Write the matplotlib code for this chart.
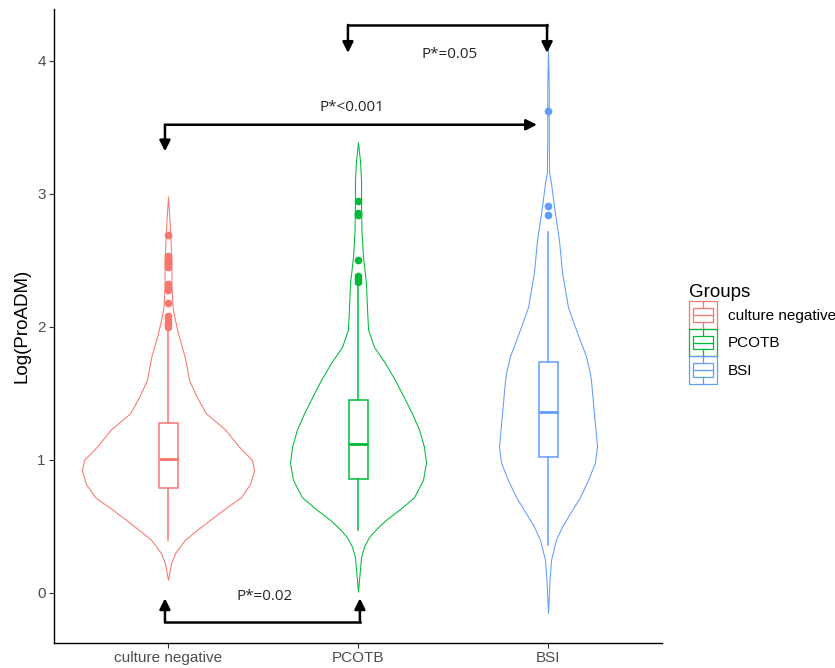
import matplotlib
matplotlib.use('Agg')
import matplotlib.pyplot as plt
from matplotlib.legend_handler import HandlerBase
from matplotlib.patches import Rectangle, Patch
from matplotlib.lines import Line2D

plt.rcParams['font.family'] = ['Liberation Sans', 'DejaVu Sans']

groups = ['culture negative', 'PCOTB', 'BSI']
colors = ['#F8766D', '#00BA38', '#619CFF']

# violin outlines: value levels and half widths (x units)
cn_y = [0.10, 0.16, 0.22, 0.30, 0.40, 0.48, 0.55, 0.64, 0.72, 0.82, 0.92, 1.00, 1.10,
        1.23, 1.35, 1.47, 1.60, 1.77, 1.95, 2.05, 2.15, 2.30, 2.50, 2.65, 2.80, 2.98]
cn_w = [0.0, 0.008, 0.016, 0.037, 0.089, 0.158, 0.221, 0.305, 0.384, 0.432, 0.453, 0.442, 0.374,
        0.300, 0.200, 0.153, 0.111, 0.089, 0.053, 0.037, 0.024, 0.018, 0.018, 0.013, 0.008, 0.0]

pc_y = [0.01, 0.14, 0.27, 0.35, 0.42, 0.48, 0.55, 0.63, 0.72, 0.85, 0.98, 1.10, 1.23, 1.35,
        1.47, 1.60, 1.73, 1.85, 1.98, 2.15, 2.33, 2.53, 2.73, 2.95, 3.10, 3.24, 3.39]
pc_w = [0.0, 0.008, 0.016, 0.032, 0.058, 0.095, 0.147, 0.221, 0.295, 0.342, 0.358, 0.347, 0.321, 0.284,
        0.242, 0.195, 0.142, 0.084, 0.053, 0.047, 0.042, 0.026, 0.018, 0.016, 0.016, 0.011, 0.0]

bs_y = [-0.15, 0.10, 0.25, 0.40, 0.50, 0.60, 0.72, 0.85, 0.98, 1.10, 1.35, 1.60, 1.65, 1.78,
        1.90, 2.02, 2.15, 2.41, 2.65, 2.90, 3.08, 3.16, 3.40, 3.80, 4.08]
bs_w = [0.0, 0.008, 0.016, 0.042, 0.074, 0.116, 0.168, 0.211, 0.247, 0.258, 0.242, 0.226, 0.221, 0.200,
        0.168, 0.137, 0.105, 0.074, 0.058, 0.032, 0.016, 0.006, 0.004, 0.004, 0.0]

violin_y = [cn_y, pc_y, bs_y]
violin_w = [cn_w, pc_w, bs_w]

# boxplot statistics
q1 = [0.79, 0.86, 1.02]
med = [1.01, 1.12, 1.36]
q3 = [1.28, 1.45, 1.74]
whislo = [0.40, 0.47, 0.36]
whishi = [1.99, 2.30, 2.71]
fliers = [[2.00, 2.02, 2.04, 2.06, 2.08, 2.18, 2.28, 2.30, 2.32, 2.45, 2.47, 2.49, 2.51, 2.53, 2.69],
          [2.34, 2.36, 2.38, 2.50, 2.84, 2.86, 2.95],
          [2.84, 2.91, 3.62]]

# p-value labels
p_labels = ['P*=0.05', 'P*<0.001', 'P*=0.02']
p_x = [2.484, 1.968, 1.51]
p_y = [4.05, 3.65, -0.03]


class BoxKey(HandlerBase):
    def create_artists(self, legend, orig_handle, xdescent, ydescent,
                       width, height, fontsize, trans):
        c = orig_handle.get_edgecolor()
        x0, y0 = -xdescent, -ydescent
        arts = [Rectangle((x0, y0), width, height, fill=False, ec=c, lw=0.9),
                Rectangle((x0 + 0.14 * width, y0 + 0.25 * height), 0.72 * width, 0.5 * height,
                          fill=False, ec=c, lw=0.9),
                Line2D([x0 + 0.14 * width, x0 + 0.86 * width], [y0 + 0.5 * height] * 2, color=c, lw=0.9),
                Line2D([x0 + 0.5 * width] * 2, [y0, y0 + 0.25 * height], color=c, lw=0.9),
                Line2D([x0 + 0.5 * width] * 2, [y0 + 0.75 * height, y0 + height], color=c, lw=0.9)]
        for a in arts:
            a.set_transform(trans)
        return arts


fig = plt.figure(figsize=(8.35, 6.68), dpi=100)
ax = fig.add_axes([54 / 835, 25 / 668, 608 / 835, 634 / 668])

for i in range(3):
    pos = i + 1
    left = [pos - w for w in violin_w[i]]
    right = [pos + w for w in violin_w[i]]
    ax.fill_betweenx(violin_y[i], left, right, facecolor='white',
                     edgecolor=colors[i], lw=0.75, zorder=2)

stats = []
for i in range(3):
    stats.append(dict(q1=q1[i], med=med[i], q3=q3[i], whislo=whislo[i],
                      whishi=whishi[i], fliers=fliers[i]))
bp = ax.bxp(stats, positions=[1, 2, 3], widths=0.1, showcaps=False,
            patch_artist=True, manage_ticks=False, zorder=3)
for i in range(3):
    c = colors[i]
    bp['boxes'][i].set(facecolor='white', edgecolor=c, lw=1.1)
    bp['medians'][i].set(color=c, lw=2.0)
    for w in bp['whiskers'][2 * i:2 * i + 2]:
        w.set(color=c, lw=1.1)
    bp['fliers'][i].set(marker='o', markersize=4.5, markerfacecolor=c,
                        markeredgecolor=c, alpha=1)

# brackets
akw = dict(arrowstyle='-|>', color='black', lw=1.8, mutation_scale=16,
           shrinkA=0, shrinkB=0)
# top: PCOTB vs BSI, both ends arrows pointing down
ax.plot([1.947, 2.995], [4.27, 4.27], color='black', lw=1.8, solid_capstyle='projecting')
ax.annotate('', xy=(1.947, 4.06), xytext=(1.947, 4.27), arrowprops=akw)
ax.annotate('', xy=(2.995, 4.06), xytext=(2.995, 4.27), arrowprops=akw)
# middle: culture negative vs BSI
ax.annotate('', xy=(0.984, 3.32), xytext=(0.984, 3.52), arrowprops=akw)
ax.annotate('', xy=(2.942, 3.52), xytext=(0.984, 3.52), arrowprops=akw)
# bottom: culture negative vs PCOTB
ax.plot([0.984, 2.01], [-0.22, -0.22], color='black', lw=1.8, solid_capstyle='projecting')
ax.annotate('', xy=(0.984, -0.04), xytext=(0.984, -0.22), arrowprops=akw)
ax.annotate('', xy=(2.01, -0.04), xytext=(2.01, -0.22), arrowprops=akw)

for t, x, y in zip(p_labels, p_x, p_y):
    ax.text(x, y, t, ha='center', va='center', fontsize=11,
            family=['Open Sans', 'DejaVu Sans'], color='#262626')

ax.set_xlim(0.4, 3.6)
ax.set_ylim(-0.376, 4.39)
ax.set_xticks([1, 2, 3])
ax.set_xticklabels(groups)
ax.set_yticks([0, 1, 2, 3, 4])
ax.tick_params(axis='both', length=3.5, width=0.8, color='#333333',
               labelcolor='#4D4D4D', labelsize=11, pad=2.5)
for s in ['top', 'right']:
    ax.spines[s].set_visible(False)
for s in ['left', 'bottom']:
    ax.spines[s].set_linewidth(1.0)
    ax.spines[s].set_color('black')
ax.set_ylabel('Log(ProADM)', fontsize=13.5, color='black', labelpad=5)

handles = [Patch(edgecolor=c, facecolor='white') for c in colors]
leg = fig.legend(handles, groups, title='Groups', loc='center left',
                 bbox_to_anchor=(0.825, 0.50), frameon=False, fontsize=11,
                 title_fontsize=13.5, handler_map={Patch: BoxKey()},
                 handlelength=1.85, handleheight=2.4, labelspacing=0,
                 handletextpad=0.7, borderpad=0, borderaxespad=0,
                 alignment='left')

fig.savefig('out.png', dpi=100)
